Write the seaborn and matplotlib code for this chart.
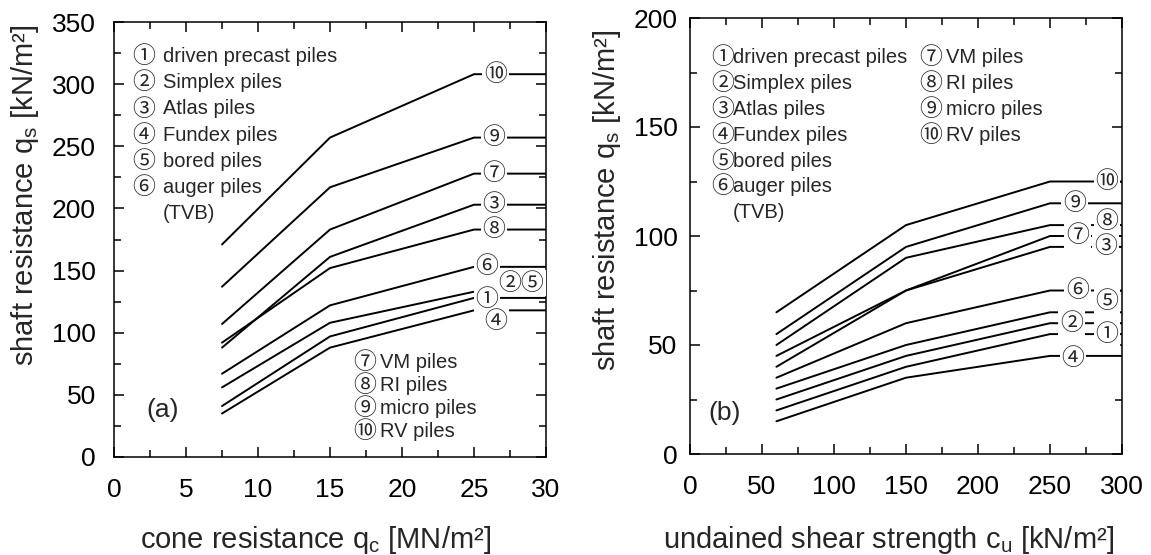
import matplotlib.pyplot as plt
import matplotlib.ticker as mticker
import pandas as pd
import seaborn as sns

# ---- (a) cone resistance qc -> shaft resistance qs ----
qc = [7.5, 15, 25]
qc_max = 30
piles_a = ['⑩', '⑨', '⑦', '③', '⑧', '⑥', '②⑤', '①', '④']
qs_a = [
    [171, 257, 308],
    [137, 217, 257],
    [107, 183, 228],
    [88, 161, 203],
    [92, 152, 183],
    [67, 122, 153],
    [56, 108, 133],
    [41, 97, 128],
    [35, 88, 118],
]

# ---- (b) undrained shear strength cu -> shaft resistance qs ----
cu = [60, 150, 250]
cu_max = 300
piles_b = ['⑩', '⑨', '⑧', '⑦', '③', '⑥', '⑤', '②', '①', '④']
qs_b = [
    [65, 105, 125],
    [55, 95, 115],
    [50, 90, 105],
    [40, 75, 100],
    [45, 75, 95],
    [35, 60, 75],
    [30, 50, 65],
    [25, 45, 60],
    [20, 40, 55],
    [15, 35, 45],
]

# legend texts (shared by both panels)
marks_1 = ['①', '②', '③', '④', '⑤', '⑥']
names_1 = ['driven precast piles', 'Simplex piles', 'Atlas piles',
           'Fundex piles', 'bored piles', 'auger piles']
marks_2 = ['⑦', '⑧', '⑨', '⑩']
names_2 = ['VM piles', 'RI piles', 'micro piles', 'RV piles']

# label placement at the line ends: (x, y offset)
tags_a = [(26.5, 0), (26.4, 0), (26.4, 0), (26.4, 0), (26.4, 0),
          (25.9, 0), (28.3, 7), (25.9, -1), (26.5, -9)]
tags_b = [(289.5, 0), (267, 0), (289.5, 1.5), (269, 0), (288.5, 0),
          (269, 0), (289.5, 5), (265, 0), (289.5, 0), (266, -1)]

sns.set_style('ticks')
plt.rcParams['font.family'] = ['Liberation Sans', 'Noto Sans CJK JP', 'DejaVu Sans']
plt.rcParams['mathtext.fontset'] = 'custom'
plt.rcParams['mathtext.rm'] = 'Liberation Sans'
plt.rcParams['mathtext.default'] = 'rm'

bg = 'white'
CIRC = 16.5
TXT = 14.5


def long_frame(xs, x_end, piles, values):
    rows = []
    for pile, vals in zip(piles, values):
        for x, v in zip(xs + [x_end], vals + [vals[-1]]):
            rows.append({'x': x, 'q': v, 'pile': pile})
    return pd.DataFrame(rows)


def style_axes(ax, xmax, ymax, xmaj, ymaj, ypad):
    ax.set_xlim(0, xmax)
    ax.set_ylim(0, ymax)
    ax.xaxis.set_major_locator(mticker.MultipleLocator(xmaj))
    ax.xaxis.set_minor_locator(mticker.MultipleLocator(xmaj / 2))
    ax.yaxis.set_major_locator(mticker.MultipleLocator(ymaj))
    ax.yaxis.set_minor_locator(mticker.MultipleLocator(ymaj / 2))
    ax.tick_params(which='both', direction='in', top=True, right=True,
                   width=1.1, colors='black', labelsize=19)
    ax.tick_params(which='major', length=7)
    ax.tick_params(which='minor', length=5)
    ax.tick_params(axis='x', pad=15)
    ax.tick_params(axis='y', pad=ypad)
    for s in ax.spines.values():
        s.set_linewidth(1.1)
        s.set_color('black')
    ax.set_xlabel('')
    ax.set_ylabel('')
    ax.set_facecolor(bg)


def draw_panel(ax, xs, x_end, piles, values, tags):
    df = long_frame(xs, x_end, piles, values)
    sns.lineplot(data=df, x='x', y='q', hue='pile', hue_order=piles,
                 palette=['black'] * len(piles), legend=False,
                 errorbar=None, lw=1.4, ax=ax)
    for pile, vals, (tx, dy) in zip(piles, values, tags):
        ax.text(tx, vals[-1] + dy, pile, ha='center', va='center', fontsize=CIRC,
                bbox=dict(boxstyle='square,pad=0.08', fc=bg, ec='none'))


def legend_block(ax, marks, names, x_mark, x_text, y0, dy):
    for i, (m, n) in enumerate(zip(marks, names)):
        y = y0 - i * dy
        ax.text(x_mark, y, m, ha='left', va='center', fontsize=CIRC)
        ax.text(x_text, y, n, ha='left', va='center', fontsize=TXT)


fig = plt.figure(figsize=(11.51, 5.55), dpi=100, facecolor=bg)
W, H = 1151, 555
ax1 = fig.add_axes([114 / W, (H - 457) / H, 432 / W, 435 / H])
ax2 = fig.add_axes([690 / W, (H - 454) / H, 432 / W, 436 / H])

# panel (a)
draw_panel(ax1, qc, qc_max, piles_a, qs_a, tags_a)
style_axes(ax1, 30, 350, 5, 50, 13)
legend_block(ax1, marks_1, names_1, 1.3, 3.4, 322, 21)
ax1.text(3.4, 196, '(TVB)', ha='left', va='center', fontsize=TXT)
legend_block(ax1, marks_2, names_2, 16.6, 18.5, 76, 18.5)
ax1.text(3.4, 38, '(a)', ha='center', va='center', fontsize=19)

# panel (b)
draw_panel(ax2, cu, cu_max, piles_b, qs_b, tags_b)
style_axes(ax2, 300, 200, 50, 50, 9)
legend_block(ax2, marks_1, names_1, 14.5, 29.9, 182, 11.9)
ax2.text(29.9, 111, '(TVB)', ha='left', va='center', fontsize=TXT)
legend_block(ax2, marks_2, names_2, 159, 178, 182, 11.9)
ax2.text(24, 19, '(b)', ha='center', va='center', fontsize=19)

# axis titles
fig.text(316 / W, 1 - 540 / H, 'cone resistance q$_c$ [MN/m²]',
         ha='center', va='center', fontsize=21)
fig.text(889 / W, 1 - 540 / H, 'undained shear strength c$_u$ [kN/m²]',
         ha='center', va='center', fontsize=21)
fig.text(25 / W, 1 - 195 / H, 'shaft resistance q$_s$ [kN/m²]',
         ha='center', va='center', rotation=90, fontsize=21)
fig.text(607 / W, 1 - 200 / H, 'shaft resistance q$_s$ [kN/m²]',
         ha='center', va='center', rotation=90, fontsize=21)

fig.savefig('out.png', dpi=100, facecolor=bg)
